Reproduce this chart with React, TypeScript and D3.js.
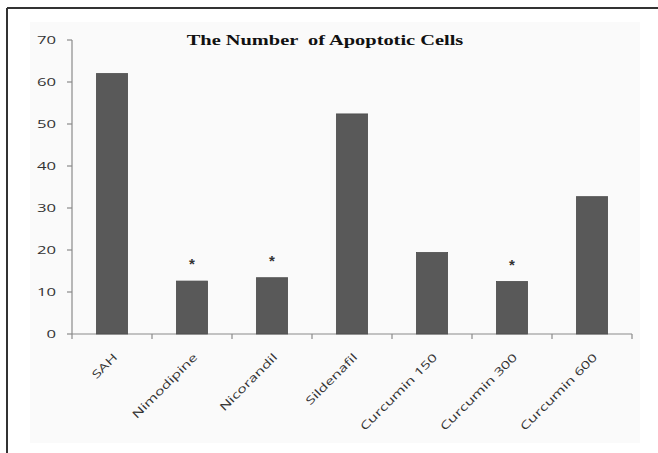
import React from 'react';
import * as d3 from 'd3';

const categories = ['SAH', 'Nimodipine', 'Nicorandil', 'Sildenafil', 'Curcumin 150', 'Curcumin 300', 'Curcumin 600'];
const apoptoticCells = [62, 12.6, 13.4, 52.4, 19.4, 12.5, 32.7];
const significant = [false, true, true, false, false, true, false];
const yTicks = [0, 10, 20, 30, 40, 50, 60, 70];
const chartTitle = 'The Number  of Apoptotic Cells';

const width = 658;
const height = 453;
const margin = { top: 40, right: 26, bottom: 119, left: 72 };
const stretch = 1.45; // the source picture is stretched sideways

export default function App() {
    const x = d3.scaleBand<string>()
        .domain(categories)
        .range([margin.left, width - margin.right])
        .paddingInner(0)
        .paddingOuter(0);

    const y = d3.scaleLinear()
        .domain([0, 70])
        .range([height - margin.bottom, margin.top]);

    const barW = x.bandwidth() * 0.39;
    const bounds = categories.map(c => x(c) as number).concat([width - margin.right]);

    return (
        <svg width={width} height={height} style={{ position: 'absolute', left: 0, top: 0, background: '#fff' }}>
            <rect x={30} y={22} width={610} height={421} fill="#fafafa" />
            {/* frame */}
            <line x1={7} x2={width} y1={8} y2={8} stroke="#333" strokeWidth={2} />
            <line x1={7} x2={7} y1={8} y2={height} stroke="#333" strokeWidth={2} />

            <text
                x={325}
                y={45}
                textAnchor="middle"
                fontFamily="'Liberation Serif', 'Times New Roman', serif"
                fontWeight="bold"
                fontSize={15}
                fill="#111"
                style={{ whiteSpace: 'pre' }}
                transform={`translate(325,0) scale(1.36,1) translate(${-325},0)`}
            >
                {chartTitle}
            </text>

            {/* y axis */}
            <line x1={margin.left} x2={margin.left} y1={y(70)} y2={y(0)} stroke="#8a8a8a" strokeWidth={1.2} />
            {yTicks.map(t => (
                <g key={t}>
                    <line x1={margin.left - 5} x2={margin.left} y1={y(t)} y2={y(t)} stroke="#8a8a8a" strokeWidth={1.2} />
                    <text
                        transform={`translate(56,${y(t) + 4}) scale(${stretch},1)`}
                        textAnchor="end"
                        fontFamily="'Open Sans', sans-serif"
                        fontSize={11.5}
                        fill="#333"
                    >
                        {t}
                    </text>
                </g>
            ))}

            {/* x axis */}
            <line x1={margin.left} x2={width - margin.right} y1={y(0)} y2={y(0)} stroke="#8a8a8a" strokeWidth={1.2} />
            {bounds.map((b, i) => (
                <line key={i} x1={b} x2={b} y1={y(0)} y2={y(0) + 5} stroke="#8a8a8a" strokeWidth={1.2} />
            ))}

            {categories.map((c, i) => {
                const cx = (x(c) as number) + x.bandwidth() / 2;
                return (
                    <g key={c}>
                        <rect
                            x={cx - barW / 2}
                            y={y(apoptoticCells[i])}
                            width={barW}
                            height={y(0) - y(apoptoticCells[i])}
                            fill="#595959"
                            stroke="#4d4d4d"
                            strokeWidth={0.8}
                        />
                        {significant[i] && (
                            <text
                                x={cx}
                                y={y(apoptoticCells[i]) - 12}
                                textAnchor="middle"
                                fontFamily="'Liberation Sans', sans-serif"
                                fontWeight="bold"
                                fontSize={15}
                                fill="#333"
                            >
                                *
                            </text>
                        )}
                        <text
                            transform={`translate(${cx + 6},${y(0) + 24}) rotate(-45) scale(${stretch},1)`}
                            textAnchor="end"
                            fontFamily="'Open Sans', sans-serif"
                            fontSize={11}
                            fill="#333"
                        >
                            {c}
                        </text>
                    </g>
                );
            })}
        </svg>
    );
}
